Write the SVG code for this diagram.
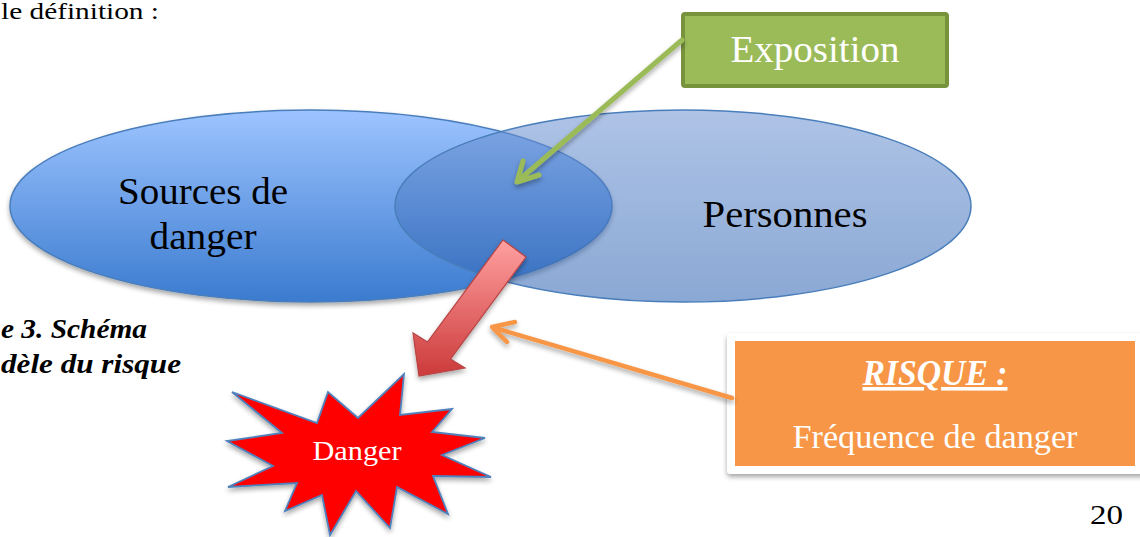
<svg xmlns="http://www.w3.org/2000/svg" width="1140" height="537" viewBox="0 0 1140 537">
<style>
.serif{font-family:"Liberation Serif","DejaVu Serif",serif;}
.dark{fill:#000000;}
.white{fill:#ffffff;}
</style>
<defs>
<linearGradient id="gLeft" x1="0" y1="0" x2="0" y2="1">
<stop offset="0" stop-color="#9DC4FF"/>
<stop offset="1" stop-color="#3B7BCF"/>
</linearGradient>
<linearGradient id="gRight" x1="0" y1="0" x2="0" y2="1">
<stop offset="0" stop-color="#6C92D2"/>
<stop offset="1" stop-color="#2A61B1"/>
</linearGradient>
<linearGradient id="gRed" x1="0" y1="0" x2="0" y2="1">
<stop offset="0" stop-color="#FFA0A0"/>
<stop offset="1" stop-color="#CC3A3A"/>
</linearGradient>
<filter id="shadow" x="-10%" y="-10%" width="120%" height="130%">
<feGaussianBlur in="SourceAlpha" stdDeviation="2.5"/>
<feOffset dx="0" dy="3" result="b"/>
<feComponentTransfer><feFuncA type="linear" slope="0.35"/></feComponentTransfer>
<feMerge><feMergeNode/><feMergeNode in="SourceGraphic"/></feMerge>
</filter>
</defs>

<g id="page-text">
<text class="serif dark" x="1" y="19" font-size="24" textLength="158" lengthAdjust="spacingAndGlyphs">le définition :</text>
<text class="serif dark" x="1" y="338" font-size="27" font-weight="bold" font-style="italic" textLength="146" lengthAdjust="spacingAndGlyphs">e 3. Schéma</text>
<text class="serif dark" x="1" y="373" font-size="27" font-weight="bold" font-style="italic" textLength="180" lengthAdjust="spacingAndGlyphs">dèle du risque</text>
<text class="serif dark" x="1090" y="524" font-size="28" textLength="33" lengthAdjust="spacingAndGlyphs">20</text>
</g>

<g id="sources">
<ellipse cx="311" cy="206" rx="301" ry="96" fill="url(#gLeft)" stroke="#4A7EBB" stroke-width="1.5" filter="url(#shadow)"/>
<text class="serif dark" x="203" y="204" font-size="38" text-anchor="middle" textLength="170" lengthAdjust="spacingAndGlyphs">Sources de</text>
<text class="serif dark" x="203" y="249" font-size="38" text-anchor="middle" textLength="107" lengthAdjust="spacingAndGlyphs">danger</text>
</g>

<g id="personnes">
<ellipse cx="683" cy="206" rx="288" ry="96" fill="url(#gRight)" fill-opacity="0.55" stroke="#4A7EBB" stroke-width="1.5"/>
<text class="serif dark" x="785" y="227" font-size="38" text-anchor="middle" textLength="165" lengthAdjust="spacingAndGlyphs">Personnes</text>
</g>

<g id="exposition">
<rect x="683" y="14" width="264" height="72" rx="2" fill="#9BBB59" stroke="#77933C" stroke-width="4"/>
<text class="serif white" x="815" y="62" font-size="38" text-anchor="middle" textLength="169" lengthAdjust="spacingAndGlyphs">Exposition</text>
</g>

<g id="risque">
<rect x="727" y="333" width="420" height="141" rx="4" fill="#ffffff" filter="url(#shadow)"/>
<rect x="735" y="341" width="400" height="125" fill="#F79646"/>
<text class="serif white" x="935" y="385" font-size="36" font-weight="bold" font-style="italic" text-anchor="middle" text-decoration="underline" textLength="145" lengthAdjust="spacingAndGlyphs">RISQUE :</text>
<text class="serif white" x="935" y="448" font-size="33" text-anchor="middle" textLength="285" lengthAdjust="spacingAndGlyphs">Fréquence de danger</text>
</g>

<g id="danger">
<polygon points="404,374 400,415 452,409 432,432 485,438 442,455 491,477 433,476 448,514 397,487 390,528 356,491 330,535 322,495 285,511 297,483 228,487 273,466 227,441 282,433 232,392 317,423 328,392 358,418" fill="#FF0000" stroke="#4F81BD" stroke-width="1.8" stroke-linejoin="miter" filter="url(#shadow)"/>
<text class="serif white" x="357" y="460" font-size="27" text-anchor="middle" textLength="89" lengthAdjust="spacingAndGlyphs">Danger</text>
</g>

<g id="connectors">
<polygon points="503,240 526,257 450.4,359.1 465,368 419,376 413,333 427.6,341.9" fill="url(#gRed)" stroke="#B94444" stroke-width="1.2" stroke-linejoin="miter" filter="url(#shadow)"/>
<g fill="none" stroke="#9BBB59" stroke-width="5" stroke-linecap="round" stroke-linejoin="round" filter="url(#shadow)">
<line x1="682" y1="40" x2="519" y2="180"/>
<polyline points="523,161 517,182 539,175"/>
</g>
<g fill="none" stroke="#F79646" stroke-width="4.5" stroke-linecap="round" stroke-linejoin="round" filter="url(#shadow)">
<line x1="732" y1="398" x2="495" y2="328"/>
<polyline points="515,322 492,327 507,342"/>
</g>
</g>
</svg>
